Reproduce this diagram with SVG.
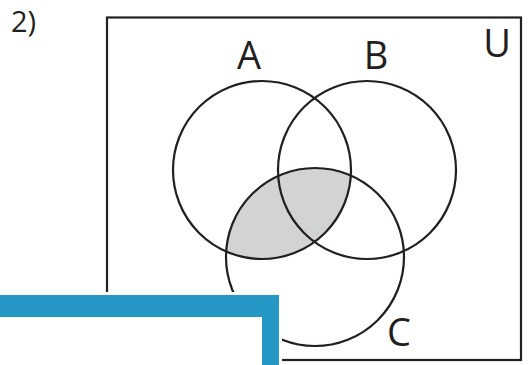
<svg xmlns="http://www.w3.org/2000/svg" width="528" height="365" viewBox="0 0 528 365">
<style>
.set{fill:none;stroke:#231f20;stroke-width:2.2}
.lbl{font-family:"Open Sans","Liberation Sans",sans-serif;font-size:38px;fill:#231f20;text-anchor:middle}
</style>
<defs>
<clipPath id="clipA"><circle cx="262" cy="170" r="89"/></clipPath>
</defs>
<rect width="528" height="365" fill="#ffffff"/>
<text x="11" y="32" font-family="Open Sans, Liberation Sans, sans-serif" font-size="29" fill="#231f20">2)</text>
<g id="universe">
<rect class="set" x="107" y="17.5" width="414" height="342.5"/>
<text class="lbl" x="497" y="57">U</text>
</g>
<g id="shade">
<circle cx="315" cy="257" r="89" fill="#d1d3d4" clip-path="url(#clipA)"/>
</g>
<g id="A">
<circle class="set" cx="262" cy="170" r="89"/>
<text class="lbl" x="249" y="69">A</text>
</g>
<g id="B">
<circle class="set" cx="367" cy="170" r="89"/>
<text class="lbl" x="376" y="69">B</text>
</g>
<g id="C">
<circle class="set" cx="315" cy="257" r="89"/>
<text class="lbl" x="399" y="346">C</text>
</g>
<g id="bar">
<rect x="0" y="292" width="282" height="73" fill="#ffffff"/>
<path d="M0 295 H279 V365 H262 V317 H0 Z" fill="#2698c5"/>
</g>
</svg>
